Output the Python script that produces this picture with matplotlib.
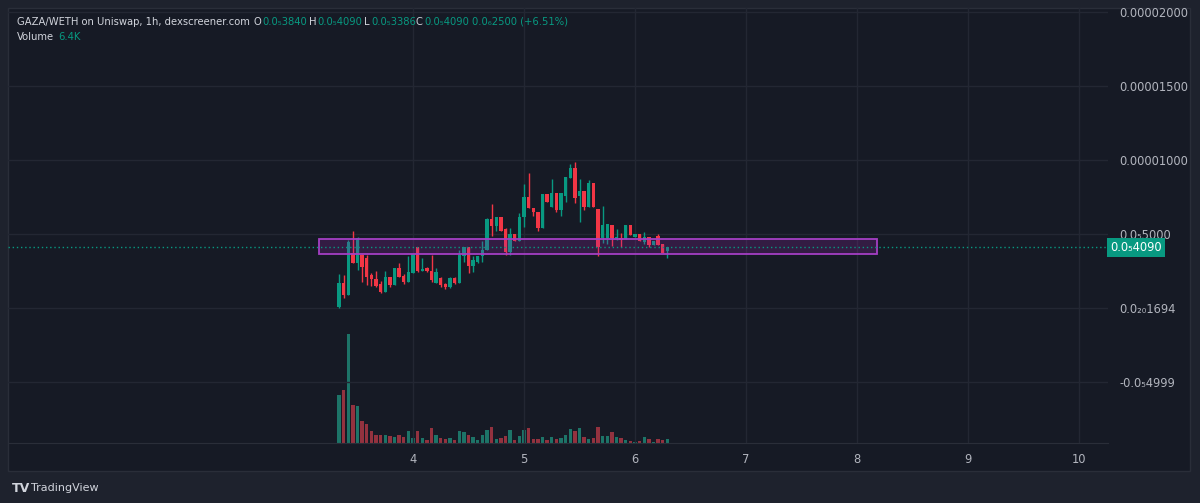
import numpy as np
import matplotlib
matplotlib.use("Agg")
from matplotlib import pyplot as plt
from matplotlib.patches import Rectangle
from matplotlib.transforms import blended_transform_factory

# %%
# hourly candles, prices in units of 1e-6 WETH, volume in K
hour0 = 8  # first candle: day 3, 08:00
opens = [0.05, 1.69, 0.88, 3.72, 3.04, 3.58, 3.38, 2.23, 1.96, 1.62,
         1.08, 2.09, 1.55, 2.70, 2.16, 1.76, 2.36, 4.12, 2.50, 2.70,
         2.50, 1.69, 2.03, 1.62, 1.42, 2.03, 1.69, 3.51, 4.12, 2.84,
         3.11, 3.51, 3.92, 6.01, 5.54, 6.15, 5.34, 3.78, 5.00, 4.53,
         6.15, 7.50, 6.76, 6.49, 5.41, 7.70, 6.82, 7.77, 6.62, 7.57,
         8.78, 9.46, 7.57, 7.91, 6.82, 8.45, 6.69, 4.73, 4.73, 5.61,
         4.73, 4.73, 4.66, 5.61, 4.80, 5.00, 4.46, 4.80, 4.26, 4.86,
         4.32, 3.84]
highs = [2.30, 2.23, 4.59, 5.20, 4.80, 3.65, 3.58, 2.36, 2.50, 1.82,
         2.50, 2.09, 2.70, 3.04, 2.30, 3.51, 3.65, 4.12, 3.38, 2.77,
         3.58, 2.70, 2.09, 1.69, 2.09, 2.09, 3.92, 4.12, 4.12, 3.51,
         3.51, 4.53, 6.08, 7.03, 6.15, 6.15, 5.41, 5.41, 5.00, 6.42,
         8.38, 9.12, 6.76, 6.49, 7.70, 7.70, 8.72, 7.77, 7.77, 8.85,
         9.73, 9.86, 8.72, 7.91, 8.65, 8.45, 6.69, 6.89, 5.68, 5.61,
         5.34, 5.07, 5.61, 5.61, 5.00, 5.00, 5.14, 4.80, 4.53, 5.00,
         4.32, 4.09]
lows = [0.00, 0.68, 0.88, 3.04, 2.57, 1.76, 1.55, 1.49, 1.42, 1.01,
        1.08, 1.42, 1.55, 2.09, 1.62, 1.76, 2.36, 2.43, 2.50, 2.43,
        1.76, 1.69, 1.42, 1.28, 1.35, 1.62, 1.69, 3.11, 2.36, 2.43,
        3.04, 3.11, 3.92, 4.86, 5.20, 5.20, 3.58, 3.58, 4.53, 4.53,
        5.47, 6.76, 6.22, 5.20, 5.41, 7.16, 6.82, 6.49, 6.22, 7.16,
        8.78, 7.09, 5.81, 6.62, 6.82, 6.82, 3.51, 4.39, 4.32, 4.19,
        4.59, 4.12, 4.66, 4.93, 4.80, 4.53, 4.32, 4.12, 4.26, 4.26,
        3.72, 3.39]
closes = [1.69, 0.88, 4.46, 3.04, 4.73, 2.77, 2.09, 1.96, 1.49, 1.08,
          2.09, 1.55, 2.70, 2.09, 1.76, 2.43, 3.65, 2.50, 2.64, 2.50,
          1.89, 2.43, 1.55, 1.42, 2.03, 1.69, 3.58, 4.12, 2.84, 3.24,
          3.51, 3.92, 6.01, 5.54, 6.15, 5.20, 3.78, 5.00, 4.53, 6.15,
          7.50, 6.76, 6.49, 5.41, 7.70, 7.16, 7.77, 6.62, 7.77, 8.85,
          9.46, 7.43, 7.91, 6.82, 8.45, 6.82, 4.12, 5.61, 5.68, 4.73,
          4.80, 4.59, 5.61, 4.93, 5.00, 4.53, 4.80, 4.26, 4.53, 4.26,
          3.72, 4.09]
volumes = [76, 85, 174, 61, 59, 35, 30, 19, 13, 13,
           13, 11, 10, 13, 10, 19, 8, 19, 8, 5,
           24, 13, 8, 6, 8, 5, 19, 18, 13, 10,
           5, 13, 21, 26, 6, 8, 11, 21, 5, 11,
           21, 24, 6, 6, 10, 5, 10, 6, 8, 13,
           22, 19, 24, 10, 6, 8, 26, 11, 11, 18,
           10, 8, 5, 3, 1.6, 3, 10, 6, 1.6, 6,
           5, 6.4]

price_ticks = [20, 15, 10, 5, 0, -5]
price_labels = ["0.00002000", "0.00001500", "0.00001000", "0.0\u20855000",
                "0.0\u2082\u20801694", "-0.0\u20854999"]
day_ticks = [4, 5, 6, 7, 8, 9, 10]
last_price = 4.09
last_label = "0.0\u20854090"
zone_x = (3.153, 8.18)
zone_y = (3.65, 4.66)

# %%
bg_outer = '#1e222d'
bg_pane = '#161a25'
grid_c = '#232733'
up_c = '#089981'
dn_c = '#f23645'
up_vol = '#1d7468'
dn_vol = '#93323f'
txt_c = '#b2b5be'

W, H = 1200, 503
fig = plt.figure(figsize=(W / 100, H / 100), dpi=100, facecolor=bg_outer)

# chart pane background + border
fig.patches.append(Rectangle((8 / W, 1 - 471 / H), 1182 / W, 463 / H, transform=fig.transFigure,
                             facecolor=bg_pane, edgecolor='#2a2e39', lw=1, zorder=-5))

ax = fig.add_axes([8 / W, 1 - 443 / H, 1100 / W, 435 / H])
ax.patch.set_alpha(0)

x = 3 + (hour0 + np.arange(len(opens))) / 24
o = np.array(opens); c = np.array(closes)
hi = np.array(highs); lo = np.array(lows)
up = c >= o
cols = np.where(up, up_c, dn_c)
vcols = np.where(up, up_vol, dn_vol)

# volume overlay
axv = ax.twinx()
axv.patch.set_alpha(0)
axv.bar(x, volumes, width=0.74 / 24, color=vcols, zorder=1)
axv.set_ylim(0, 694)
axv.axis('off')
ax.set_zorder(axv.get_zorder() + 1)

# grid
for t in day_ticks:
    ax.axvline(t, color=grid_c, lw=1, zorder=0)
for p in price_ticks:
    ax.axhline(p, color=grid_c, lw=1, zorder=0)

# candles
ax.vlines(x, lo, hi, colors=cols, lw=1, zorder=3)
body_h = np.maximum(np.abs(c - o), 0.07)
ax.bar(x, body_h, bottom=np.minimum(o, c), width=0.74 / 24, color=cols, zorder=3)

# purple zone drawing
ax.add_patch(Rectangle((zone_x[0], zone_y[0]), zone_x[1] - zone_x[0], zone_y[1] - zone_y[0],
                       facecolor='#9c27b0', alpha=0.22, edgecolor='none', zorder=4))
ax.add_patch(Rectangle((zone_x[0], zone_y[0]), zone_x[1] - zone_x[0], zone_y[1] - zone_y[0],
                       facecolor='none', edgecolor='#a43fc4', lw=1.3, zorder=4))

# last price line
ax.axhline(last_price, color=up_c, lw=1, ls=(0, (1, 2)), zorder=5)
trans = blended_transform_factory(ax.transAxes, ax.transData)
ax.text(1.0018, last_price, last_label, transform=trans, ha='left', va='center',
        fontsize=8.3, color='white', clip_on=False, zorder=10,
        bbox=dict(boxstyle='square,pad=0.3', facecolor=up_c, edgecolor='none'))

ax.set_xlim(0.351, 10.261)
ax.set_ylim(-9.12, 20.27)
ax.set_xticks(day_ticks)
ax.set_xticklabels([str(t) for t in day_ticks])
ax.set_yticks(price_ticks)
ax.set_yticklabels(price_labels)
ax.yaxis.tick_right()
ax.tick_params(axis='y', length=0, pad=8, labelsize=8.3, labelcolor=txt_c)
ax.tick_params(axis='x', length=0, pad=7, labelsize=8.3, labelcolor=txt_c)
for s in ax.spines.values():
    s.set_visible(False)
ax.spines['bottom'].set_visible(True)
ax.spines['bottom'].set_color('#2a2e39')

# header legend
def ftxt(px, py, s, color, **kw):
    fig.text(px / W, 1 - py / H, s, color=color, fontsize=7.2, va='center', ha='left', **kw)

ftxt(17, 22, "GAZA/WETH on Uniswap, 1h, dexscreener.com", '#d1d4dc')
ftxt(254, 22, "O", '#d1d4dc'); ftxt(262, 22, "0.0\u20853840", up_c)
ftxt(309, 22, "H", '#d1d4dc'); ftxt(317, 22, "0.0\u20854090", up_c)
ftxt(364, 22, "L", '#d1d4dc'); ftxt(371, 22, "0.0\u20853386", up_c)
ftxt(416, 22, "C", '#d1d4dc'); ftxt(424, 22, "0.0\u20854090", up_c)
ftxt(472, 22, "0.0\u20862500 (+6.51%)", up_c)
ftxt(17, 37, "Volume", '#d1d4dc')
ftxt(58, 37, "6.4K", up_c)

# TradingView footer
fig.text(12 / W, 1 - 488 / H, "TV", color='#d1d4dc', fontsize=9, fontweight='bold',
         va='center', ha='left')
fig.text(31 / W, 1 - 488 / H, "TradingView", color='#d1d4dc', fontsize=8, va='center', ha='left')

fig.savefig('out.png', dpi=100, facecolor=fig.get_facecolor())
